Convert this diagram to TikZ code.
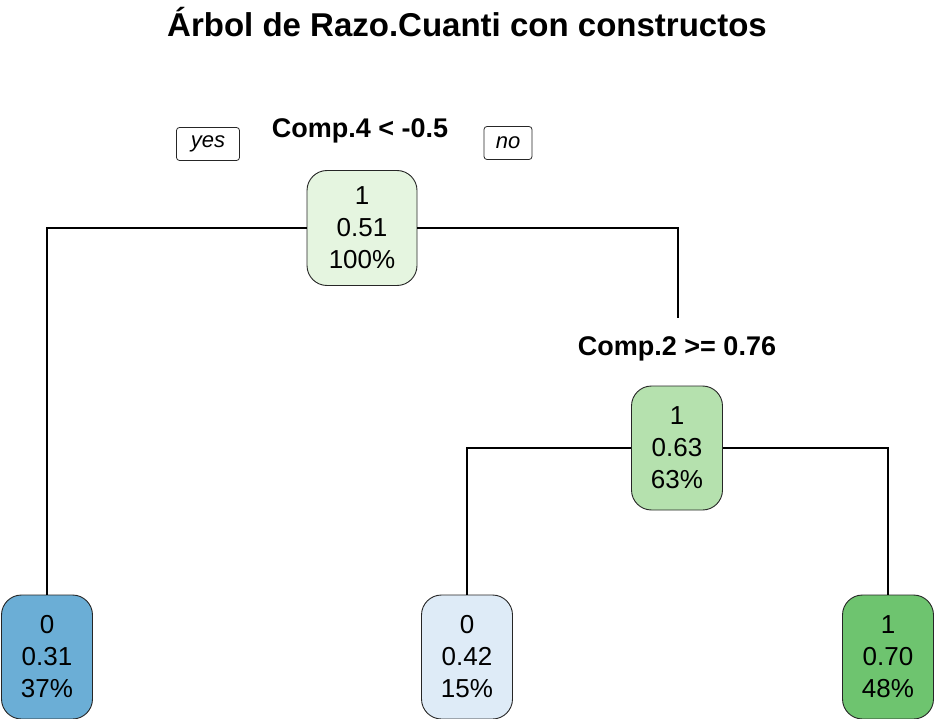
\documentclass[tikz,border=0pt]{standalone}
\usepackage{fontspec}
\setmainfont{Liberation Sans}
\usetikzlibrary{positioning}
\definecolor{VerdeClaro}{HTML}{E5F5E0}
\definecolor{VerdeMedio}{HTML}{B5E1AE}
\definecolor{VerdeFuerte}{HTML}{6EC46F}
\definecolor{AzulFuerte}{HTML}{6BAED6}
\definecolor{AzulClaro}{HTML}{DEEBF7}
\tikzset{
  caja/.style={draw=black!85, line width=0.9pt, rounded corners=20pt, align=center,
    inner sep=0pt, font=\fontsize{26}{32}\selectfont},
  hoja/.style={caja, minimum width=91pt, minimum height=124pt},
  regla/.style={font=\bfseries\fontsize{27}{30}\selectfont, inner sep=0pt},
  etiq/.style={draw=black!85, line width=0.8pt, rounded corners=3pt, inner sep=0pt,
    minimum height=33pt, font=\itshape\fontsize{22}{24}\selectfont},
  rama/.style={line width=1.3pt}
}
\begin{document}
\begin{tikzpicture}[x=1pt, y=-1pt]
  \useasboundingbox (0,0) rectangle (934,719);
  \node[font=\bfseries\fontsize{33}{38}\selectfont] (titulo) at (467,22)
    {Árbol de Razo.Cuanti con constructos};

  % primera division
  \node[regla] (reglaA) at (360,131) {Comp.4 < -0.5};
  \node[etiq, minimum width=63pt] (si) at (208,144) {yes};
  \node[etiq, minimum width=48pt] (no) at (508,143) {no};
  \node[caja, fill=VerdeClaro, minimum width=110pt, minimum height=115pt] (raiz) at (362,228)
    {1\\0.51\\100\%};

  % segunda division
  \node[regla] (reglaB) at (677,349) {Comp.2 >= 0.76};
  \coordinate (finB) at (678,318);
  \node[caja, fill=VerdeMedio, minimum width=91pt, minimum height=124pt] (nodoB) at (677,448)
    {1\\0.63\\63\%};

  % hojas
  \node[hoja, fill=AzulFuerte] (hojaA) at (47,657) {0\\0.31\\37\%};
  \node[hoja, fill=AzulClaro] (hojaB) at (467,657) {0\\0.42\\15\%};
  \node[hoja, fill=VerdeFuerte] (hojaC) at (888,657) {1\\0.70\\48\%};

  \draw[rama] (raiz.west) -| (hojaA.north);
  \draw[rama] (raiz.east) -| (finB);
  \draw[rama] (nodoB.west) -| (hojaB.north);
  \draw[rama] (nodoB.east) -| (hojaC.north);
\end{tikzpicture}
\end{document}
